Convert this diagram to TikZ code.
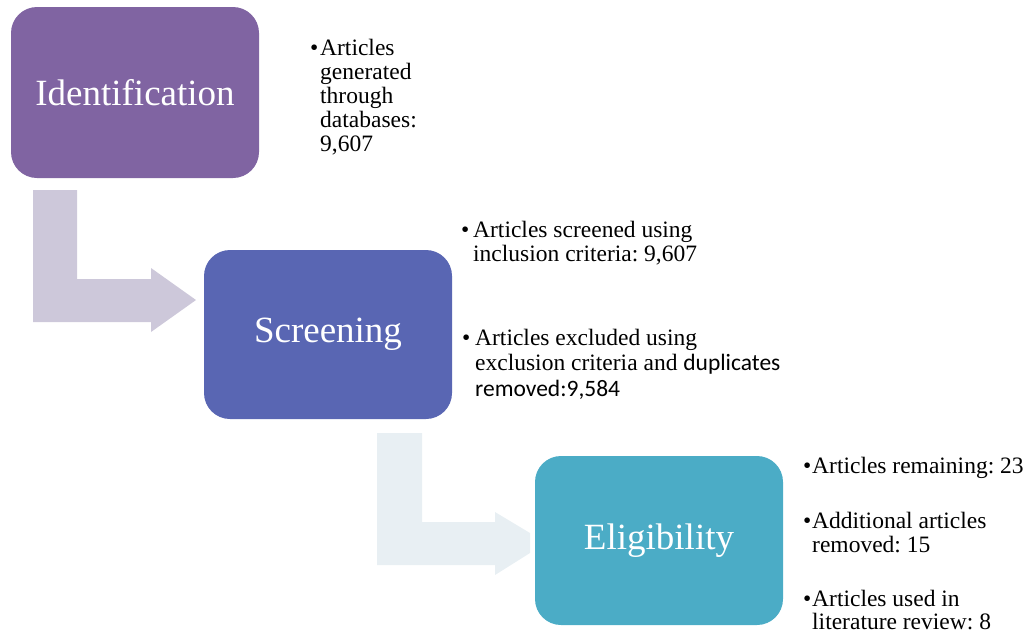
\documentclass[tikz,border=0pt]{standalone}
\usepackage{fontspec}
\setmainfont{Liberation Serif}
\newfontfamily\carlito{Carlito}
\frenchspacing
\definecolor{idcol}{HTML}{8064A2}
\definecolor{sccol}{HTML}{5966B3}
\definecolor{elcol}{HTML}{4BACC6}
\definecolor{arrA}{HTML}{CDC8DA}
\definecolor{arrB}{HTML}{E8EFF3}
\tikzset{
  stagebox/.style={rounded corners=26pt, minimum width=248pt, inner sep=0pt, text=white, font=\fontsize{37}{40}\selectfont},
  bul/.style={anchor=base west, inner sep=0pt, font=\fontsize{23.5}{24}\selectfont},
  itemtext/.style={anchor=base west, inner sep=0pt, font=\fontsize{23.5}{24}\selectfont\frenchspacing},
}
\begin{document}
\begin{tikzpicture}[x=1pt,y=-1pt]
\useasboundingbox (0,0) rectangle (1028,633);
% bent arrows
\fill[arrA] (33,190) -- (77,190) -- (77,279) -- (151,279) -- (151,268) -- (196,300) -- (151,332) -- (151,322) -- (33,322) -- cycle;
\fill[arrB] (377,433) -- (422,433) -- (422,522) -- (495,522) -- (495,512) -- (530,533) -- (530,553) -- (495,575) -- (495,565) -- (377,565) -- cycle;
% stage boxes
\node[stagebox, fill=idcol, minimum height=171pt] (ident) at (135,92.5) {Identification};
\node[stagebox, fill=sccol, minimum height=169pt] (screen) at (328,334.5) {Screening};
\node[stagebox, fill=elcol, minimum height=169pt] (elig) at (659,540.5) {Eligibility};
% identification text
\node[bul] (b1) at (310,55) {\textbullet};
\node[itemtext] (t1) at (320,55) {\begin{tabular}[t]{@{}l@{}}Articles\\generated\\through\\databases:\\9,607\end{tabular}};
% screening text
\node[bul] (b2) at (461,237) {\textbullet};
\node[itemtext] (t2) at (473,237) {\begin{tabular}[t]{@{}l@{}}Articles screened using\\inclusion criteria: 9,607\end{tabular}};
\node[bul] (b3) at (462,345) {\textbullet};
\node[itemtext] (t3) at (475,345) {\begin{tabular}[t]{@{}l@{}}Articles excluded using\\[1.5pt]exclusion criteria and {\carlito duplicates}\\[2pt]{\carlito removed:9,584}\end{tabular}};
% eligibility text
\node[bul] (b4) at (803,473) {\textbullet};
\node[itemtext] (t4) at (812,473) {Articles remaining: 23};
\node[bul] (b5) at (803,528) {\textbullet};
\node[itemtext] (t5) at (812,528) {\begin{tabular}[t]{@{}l@{}}Additional articles\\removed: 15\end{tabular}};
\node[bul] (b6) at (803,606) {\textbullet};
\node[itemtext] (t6) at (812,606) {Articles used in};
\node[itemtext] (t6b) at (812,629.5) {literature review: 8};
\end{tikzpicture}
\end{document}
